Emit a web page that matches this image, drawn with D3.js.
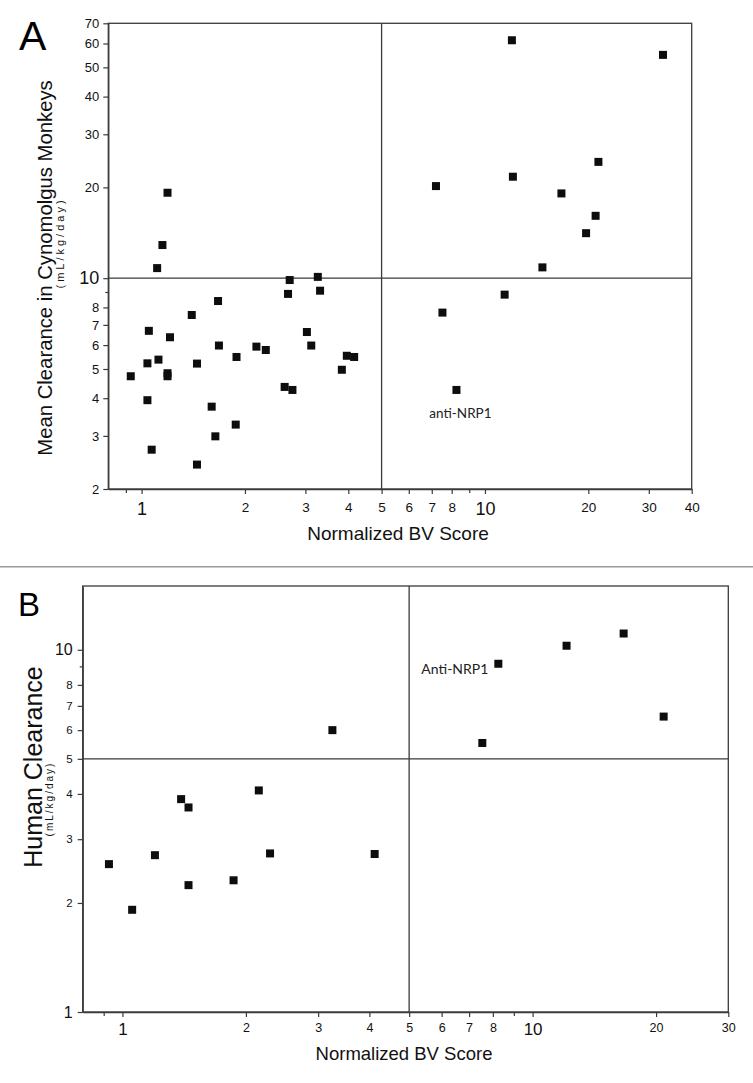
<!DOCTYPE html>
<html>
<head>
<meta charset="utf-8">
<script src="https://cdn.jsdelivr.net/npm/d3@7/dist/d3.min.js"></script>
<style>
  html, body { margin: 0; padding: 0; background: #fff; }
  svg { display: block; }
</style>
</head>
<body>
<svg id="chart" width="753" height="1083"></svg>
<script>
// ---------------- Data: Panel A (cynomolgus monkeys) ----------------
const cynoBV = [0.93, 1.04, 1.05, 1.04, 1.07, 1.12, 1.11, 1.19, 1.19, 1.21, 1.40, 1.45, 1.45, 1.60, 1.64, 1.67, 1.68, 1.88, 1.89, 2.16, 2.30, 2.61, 2.75, 2.67, 2.70, 3.26, 3.31, 3.03, 3.12, 3.83, 3.96, 4.16, 1.19, 1.15,
                11.98, 33.0, 21.4, 12.06, 7.20, 16.7, 21.0, 19.7, 14.7, 11.41, 7.52, 8.26];
const cynoCL = [4.73, 5.22, 6.69, 3.94, 2.70, 5.37, 10.8, 4.84, 4.73, 6.37, 7.55, 5.21, 2.41, 3.75, 2.99, 8.40, 5.98, 3.27, 5.48, 5.93, 5.78, 4.36, 4.26, 8.87, 9.86, 10.1, 9.09, 6.63, 5.98, 4.97, 5.53, 5.48, 19.2, 12.88,
                61.5, 55.0, 24.3, 21.7, 20.2, 19.1, 16.1, 14.1, 10.86, 8.82, 7.69, 4.26];
const cynoLabelPoint = { bv: 8.26, cl: 4.26, text: "anti-NRP1" };

// ---------------- Data: Panel B (human) ----------------
const humanBV = [0.927, 1.056, 1.20, 1.39, 1.449, 1.449, 1.866, 2.15, 2.29, 3.25, 4.12, 7.54, 8.25, 12.1, 16.67, 20.87];
const humanCL = [2.56, 1.915, 2.71, 3.87, 3.67, 2.24, 2.31, 4.09, 2.74, 6.0, 2.73, 5.53, 9.15, 10.26, 11.09, 6.54];
const humanLabelPoint = { bv: 8.25, cl: 9.15, text: "Anti-NRP1" };

// ---------------- Axis domains & ticks ----------------
const xDomainA = [0.8, 40];
const yDomainA = [2, 70];
const xTicksA = [1, 2, 3, 4, 5, 6, 7, 8, 10, 20, 30, 40];
const yTicksA = [2, 3, 4, 5, 6, 7, 8, 10, 20, 30, 40, 50, 60, 70];
const xMinorA = [0.9, 9];
const yMinorA = [9];
const xBigA = [1, 10];
const yBigA = [10];
const splitXA = 5, splitYA = 10;

const xDomainB = [0.8, 30];
const yDomainB = [1, 15];
const xTicksB = [1, 2, 3, 4, 5, 6, 7, 8, 10, 20, 30];
const yTicksB = [1, 2, 3, 4, 5, 6, 7, 8, 10];
const xMinorB = [0.9, 9];
const yMinorB = [9];
const xBigB = [1, 10];
const yBigB = [1, 10];
const splitXB = 5, splitYB = 5;

const svg = d3.select("#chart");
const LINE = "#3a3a3a";
const FONT = "'Liberation Sans', Arial, Helvetica, sans-serif";

function panel(cfg) {
  const x = d3.scaleLog().domain(cfg.xDomain).range([cfg.left, cfg.right]);
  const y = d3.scaleLog().domain(cfg.yDomain).range([cfg.bottom, cfg.top]);
  const g = svg.append("g");

  // frame
  g.append("rect")
    .attr("x", cfg.left).attr("y", cfg.top)
    .attr("width", cfg.right - cfg.left).attr("height", cfg.bottom - cfg.top)
    .attr("fill", "none").attr("stroke", LINE).attr("stroke-width", 1.3);

  // quadrant lines
  g.append("line")
    .attr("x1", x(cfg.splitX)).attr("x2", x(cfg.splitX))
    .attr("y1", cfg.top).attr("y2", cfg.bottom)
    .attr("stroke", LINE).attr("stroke-width", 1.3);
  g.append("line")
    .attr("x1", cfg.left).attr("x2", cfg.right)
    .attr("y1", y(cfg.splitY)).attr("y2", y(cfg.splitY))
    .attr("stroke", LINE).attr("stroke-width", 1.3);

  // x axis
  const xa = g.append("g").attr("transform", `translate(0,${cfg.bottom})`)
    .call(d3.axisBottom(x).tickValues(cfg.xTicks).tickFormat(d3.format("d"))
      .tickSize(5).tickPadding(cfg.xPad).tickSizeOuter(0));
  xa.select(".domain").attr("stroke", LINE).attr("stroke-width", 1.3);
  xa.selectAll(".tick line").attr("stroke", LINE).attr("stroke-width", 1.2);
  xa.selectAll(".tick text")
    .attr("fill", "#111")
    .style("font-family", FONT)
    .style("font-size", d => (cfg.xBig.includes(d) ? cfg.bigX : cfg.smallX) + "px");
  const xm = g.append("g").attr("transform", `translate(0,${cfg.bottom})`)
    .call(d3.axisBottom(x).tickValues(cfg.xMinor).tickFormat("").tickSize(4).tickSizeOuter(0));
  xm.select(".domain").remove();
  xm.selectAll(".tick line").attr("stroke", LINE).attr("stroke-width", 1.2);

  // y axis
  const ya = g.append("g").attr("transform", `translate(${cfg.left},0)`)
    .call(d3.axisLeft(y).tickValues(cfg.yTicks).tickFormat(d3.format("d"))
      .tickSize(5).tickPadding(cfg.yPad).tickSizeOuter(0));
  ya.select(".domain").attr("stroke", LINE).attr("stroke-width", 1.3);
  ya.selectAll(".tick line").attr("stroke", LINE).attr("stroke-width", 1.2);
  ya.selectAll(".tick text")
    .attr("fill", "#111")
    .style("font-family", FONT)
    .style("font-size", d => (cfg.yBig.includes(d) ? cfg.bigY : cfg.smallY) + "px");
  const ym = g.append("g").attr("transform", `translate(${cfg.left},0)`)
    .call(d3.axisLeft(y).tickValues(cfg.yMinor).tickFormat("").tickSize(3).tickSizeOuter(0));
  ym.select(".domain").remove();
  ym.selectAll(".tick line").attr("stroke", LINE).attr("stroke-width", 1.2);

  // points
  const pts = cfg.bv.map((v, i) => ({ bv: v, cl: cfg.cl[i] }));
  const s = 8;
  g.append("g").selectAll("rect").data(pts).enter().append("rect")
    .attr("x", d => x(d.bv) - s / 2).attr("y", d => y(d.cl) - s / 2)
    .attr("width", s).attr("height", s).attr("fill", "#0d0d0d");

  // annotation
  const lp = cfg.labelPoint;
  g.append("text")
    .attr("x", x(lp.bv) + cfg.labelDx).attr("y", y(lp.cl) + cfg.labelDy)
    .attr("text-anchor", cfg.labelAnchor)
    .style("font-family", "Lato, 'Open Sans', sans-serif")
    .style("font-size", cfg.labelSize + "px")
    .attr("fill", "#222")
    .text(lp.text);

  // x title
  g.append("text")
    .attr("x", cfg.xTitleX).attr("y", cfg.xTitleY)
    .attr("text-anchor", "middle")
    .style("font-family", FONT).style("font-size", cfg.xTitleSize + "px")
    .attr("fill", "#111")
    .text("Normalized BV Score");

  // y title
  g.append("text")
    .attr("transform", `translate(${cfg.yTitleX},${cfg.yTitleY}) rotate(-90)`)
    .attr("text-anchor", "middle")
    .style("font-family", FONT).style("font-size", cfg.yTitleSize + "px")
    .attr("fill", "#111")
    .text(cfg.yTitle);
  g.append("text")
    .attr("transform", `translate(${cfg.ySubX},${cfg.ySubY}) rotate(-90)`)
    .attr("text-anchor", "middle")
    .style("font-family", FONT).style("font-size", cfg.ySubSize + "px")
    .style("letter-spacing", cfg.ySubSpacing + "px")
    .attr("fill", "#111")
    .text("(mL/kg/day)");

  // panel letter
  g.append("text")
    .attr("x", cfg.letterX).attr("y", cfg.letterY)
    .style("font-family", FONT).style("font-size", cfg.letterSize + "px")
    .attr("fill", "#000")
    .text(cfg.letter);
}

panel({
  xDomain: xDomainA, yDomain: yDomainA,
  left: 108.3, right: 691.7, top: 23.3, bottom: 489,
  splitX: splitXA, splitY: splitYA,
  xTicks: xTicksA, yTicks: yTicksA, xMinor: xMinorA, yMinor: yMinorA,
  xBig: xBigA, yBig: yBigA,
  smallX: 13.5, bigX: 18, smallY: 13, bigY: 18, xPad: 8, yPad: 4,
  bv: cynoBV, cl: cynoCL,
  labelPoint: cynoLabelPoint, labelDx: 4, labelDy: 28, labelAnchor: "middle", labelSize: 13.5,
  xTitleX: 398, xTitleY: 540, xTitleSize: 19,
  yTitle: "Mean Clearance in Cynomolgus Monkeys",
  yTitleX: 51.5, yTitleY: 268, yTitleSize: 20.3,
  ySubX: 63.5, ySubY: 243, ySubSize: 11, ySubSpacing: 3,
  letter: "A", letterX: 19, letterY: 50, letterSize: 41
});

// separator
svg.append("line")
  .attr("x1", 0).attr("x2", 753).attr("y1", 566.7).attr("y2", 566.7)
  .attr("stroke", "#9a9a9a").attr("stroke-width", 1.6);

panel({
  xDomain: xDomainB, yDomain: yDomainB,
  left: 82.7, right: 728.3, top: 586, bottom: 1012,
  splitX: splitXB, splitY: splitYB,
  xTicks: xTicksB, yTicks: yTicksB, xMinor: xMinorB, yMinor: yMinorB,
  xBig: xBigB, yBig: yBigB,
  smallX: 12.5, bigX: 17, smallY: 11.5, bigY: 16, xPad: 6, yPad: 5,
  bv: humanBV, cl: humanCL,
  labelPoint: humanLabelPoint, labelDx: -10, labelDy: 10, labelAnchor: "end", labelSize: 14,
  xTitleX: 404, xTitleY: 1060, xTitleSize: 18.5,
  yTitle: "Human Clearance",
  yTitleX: 41.5, yTitleY: 767, yTitleSize: 25,
  ySubX: 52.5, ySubY: 799, ySubSize: 10, ySubSpacing: 2,
  letter: "B", letterX: 18, letterY: 616, letterSize: 33
});
</script>
</body>
</html>
